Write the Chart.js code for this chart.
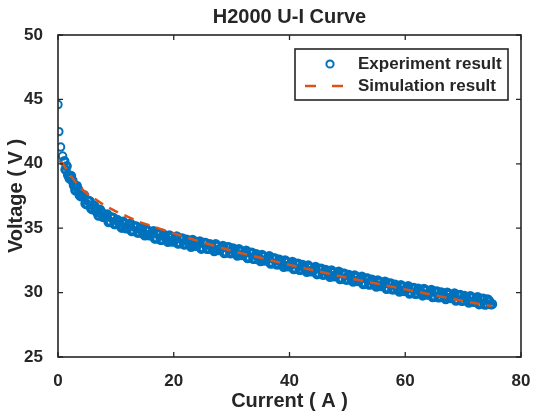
<!DOCTYPE html>
<html>
<head>
<meta charset="utf-8">
<script src="https://cdn.jsdelivr.net/npm/chart.js@4.4.0/dist/chart.umd.min.js"></script>
<style>
  html, body { margin: 0; padding: 0; background: #fff; }
  #wrap { width: 538px; height: 413px; }
</style>
</head>
<body>
<div id="wrap"><canvas id="uiChart"></canvas></div>
<script>
// measured points (current in A, voltage in V), first pass
const expCurrent = [0, 0.15, 0.45, 0.8, 1.1,
  1.5, 2, 2.5, 3, 3.5, 4, 4.5, 5, 5.5, 6, 6.5, 7, 7.5, 8, 8.5, 9, 9.5, 10,
  10.5, 11, 11.5, 12, 12.5, 13, 13.5, 14, 14.5, 15, 15.5, 16, 16.5, 17, 17.5, 18, 18.5, 19, 19.5, 20,
  20.5, 21, 21.5, 22, 22.5, 23, 23.5, 24, 24.5, 25, 25.5, 26, 26.5, 27, 27.5, 28, 28.5, 29, 29.5, 30,
  30.5, 31, 31.5, 32, 32.5, 33, 33.5, 34, 34.5, 35, 35.5, 36, 36.5, 37, 37.5, 38, 38.5, 39, 39.5, 40,
  40.5, 41, 41.5, 42, 42.5, 43, 43.5, 44, 44.5, 45, 45.5, 46, 46.5, 47, 47.5, 48, 48.5, 49, 49.5, 50,
  50.5, 51, 51.5, 52, 52.5, 53, 53.5, 54, 54.5, 55, 55.5, 56, 56.5, 57, 57.5, 58, 58.5, 59, 59.5, 60,
  60.5, 61, 61.5, 62, 62.5, 63, 63.5, 64, 64.5, 65, 65.5, 66, 66.5, 67, 67.5, 68, 68.5, 69, 69.5, 70,
  70.5, 71, 71.5, 72, 72.5, 73, 73.5, 74, 74.5, 75];
const expVoltage = [44.6, 42.5, 41.3, 40.6, 40.2,
  39.82, 38.87, 38.68, 37.94, 38.0, 37.47, 37.57, 36.85, 37.07, 36.47, 36.53, 35.99, 36.25, 35.87, 36.07, 35.5, 35.82, 35.32,
  35.48, 35.04, 35.35, 35.02, 35.35, 34.8, 35.14, 34.67, 34.86, 34.44, 34.78, 34.48, 34.76, 34.22, 34.57, 34.1, 34.35, 33.95, 34.3, 34.01,
  34.36, 33.84, 34.2, 33.75, 33.95, 33.56, 33.96, 33.68, 33.97, 33.45, 33.86, 33.41, 33.61, 33.22, 33.62, 33.34, 33.63, 33.11, 33.52, 33.07,
  33.28, 32.88, 33.24, 32.95, 33.25, 32.72, 33.09, 32.63, 32.84, 32.44, 32.8, 32.52, 32.82, 32.29, 32.66, 32.2, 32.41, 32.01, 32.37, 32.08,
  32.38, 31.86, 32.24, 31.79, 32.0, 31.61, 31.98, 31.7, 32.0, 31.48, 31.85, 31.41, 31.62, 31.23, 31.59, 31.32, 31.62, 31.1, 31.47, 31.02,
  31.24, 30.85, 31.21, 30.93, 31.24, 30.72, 31.09, 30.64, 30.85, 30.47, 30.83, 30.55, 30.85, 30.34, 30.71, 30.26, 30.47, 30.08, 30.45, 30.17,
  30.49, 29.98, 30.37, 29.93, 30.16, 29.78, 30.16, 29.89, 30.21, 29.7, 30.09, 29.65, 29.88, 29.5, 29.88, 29.62, 29.93, 29.43, 29.81, 29.38,
  29.6, 29.23, 29.6, 29.34, 29.65, 29.15, 29.53, 29.1, 29.33, 29.1];

// measured points, second pass (in between the first)
const expCurrent2 = [1.3, 1.75, 2.25, 2.75, 3.25, 3.75, 4.25, 4.75, 5.25, 5.75, 6.25, 6.75, 7.25, 7.75, 8.25, 8.75, 9.25, 9.75,
  10.25, 10.75, 11.25, 11.75, 12.25, 12.75, 13.25, 13.75, 14.25, 14.75, 15.25, 15.75, 16.25, 16.75, 17.25, 17.75, 18.25, 18.75, 19.25, 19.75,
  20.25, 20.75, 21.25, 21.75, 22.25, 22.75, 23.25, 23.75, 24.25, 24.75, 25.25, 25.75, 26.25, 26.75, 27.25, 27.75, 28.25, 28.75, 29.25, 29.75,
  30.25, 30.75, 31.25, 31.75, 32.25, 32.75, 33.25, 33.75, 34.25, 34.75, 35.25, 35.75, 36.25, 36.75, 37.25, 37.75, 38.25, 38.75, 39.25, 39.75,
  40.25, 40.75, 41.25, 41.75, 42.25, 42.75, 43.25, 43.75, 44.25, 44.75, 45.25, 45.75, 46.25, 46.75, 47.25, 47.75, 48.25, 48.75, 49.25, 49.75,
  50.25, 50.75, 51.25, 51.75, 52.25, 52.75, 53.25, 53.75, 54.25, 54.75, 55.25, 55.75, 56.25, 56.75, 57.25, 57.75, 58.25, 58.75, 59.25, 59.75,
  60.25, 60.75, 61.25, 61.75, 62.25, 62.75, 63.25, 63.75, 64.25, 64.75, 65.25, 65.75, 66.25, 66.75, 67.25, 67.75, 68.25, 68.75, 69.25, 69.75,
  70.25, 70.75, 71.25, 71.75, 72.25, 72.75, 73.25, 73.75, 74.25, 74.75];
const expVoltage2 = [39.55, 39.13, 39.05, 38.33, 38.28, 37.55, 37.53, 36.91, 37.13, 36.53, 36.75, 36.25, 36.43, 35.88, 35.98, 35.48, 35.83, 35.33,
  35.65, 35.25, 35.5, 35.0, 35.22, 34.77, 35.14, 34.67, 35.02, 34.64, 34.92, 34.45, 34.63, 34.19, 34.57, 34.1, 34.5, 34.14, 34.43, 33.97,
  34.22, 33.8, 34.19, 33.74, 34.1, 33.75, 34.09, 33.64, 33.83, 33.41, 33.85, 33.4, 33.76, 33.41, 33.75, 33.3, 33.49, 33.07, 33.51, 33.06,
  33.43, 33.07, 33.37, 32.91, 33.11, 32.68, 33.08, 32.62, 32.99, 32.63, 32.93, 32.48, 32.68, 32.25, 32.65, 32.19, 32.56, 32.2, 32.5, 32.04,
  32.24, 31.82, 32.22, 31.77, 32.14, 31.8, 32.1, 31.65, 31.85, 31.43, 31.84, 31.39, 31.76, 31.41, 31.72, 31.27, 31.47, 31.05, 31.46, 31.01,
  31.38, 31.03, 31.33, 30.89, 31.09, 30.67, 31.08, 30.63, 31.0, 30.65, 30.95, 30.51, 30.71, 30.29, 30.7, 30.25, 30.62, 30.27, 30.57, 30.13,
  30.34, 29.93, 30.35, 29.91, 30.3, 29.96, 30.28, 29.84, 30.06, 29.65, 30.07, 29.63, 30.02, 29.68, 30.0, 29.57, 29.78, 29.38, 29.79, 29.36,
  29.74, 29.41, 29.72, 29.29, 29.5, 29.1, 29.51, 29.08, 29.47, 29.1];

// model curve
const simCurrent = [0.5, 1, 2, 3, 4, 5, 6, 8, 10, 12, 14, 16, 18, 20, 25, 30, 35, 40, 45, 50, 55, 60, 65, 70, 75];
const simVoltage = [40.2, 39.9, 39.2, 38.6, 38.1, 37.7, 37.4, 36.8, 36.3, 35.9, 35.5, 35.2, 34.9, 34.6, 33.9, 33.25, 32.7, 32.15, 31.65, 31.15, 30.7, 30.25, 29.8, 29.35, 28.95];

const xTicks = [0, 20, 40, 60, 80];
const yTicks = [25, 30, 35, 40, 45, 50];
const seriesNames = ['Experiment result', 'Simulation result'];

const BLUE = '#0072BD';
const ORANGE = '#D95319';
const AXIS = '#262626';
const FONT = '"Liberation Sans", Arial, Helvetica, sans-serif';

function toXY(xs, ys) {
    return xs.map((x, i) => ({ x: x, y: ys[i] }));
}

// box round the plot with inward ticks on all four sides
const boxPlugin = {
    id: 'matlabBox',
    afterDatasetsDraw(chart) {
        const { ctx, chartArea: a, scales } = chart;
        ctx.save();
        ctx.strokeStyle = AXIS;
        ctx.lineWidth = 1.6;
        ctx.strokeRect(a.left, a.top, a.right - a.left, a.bottom - a.top);
        ctx.lineWidth = 1.3;
        ctx.beginPath();
        xTicks.forEach(v => {
            const px = scales.x.getPixelForValue(v);
            ctx.moveTo(px, a.bottom); ctx.lineTo(px, a.bottom - 5);
            ctx.moveTo(px, a.top); ctx.lineTo(px, a.top + 5);
        });
        yTicks.forEach(v => {
            const py = scales.y.getPixelForValue(v);
            ctx.moveTo(a.left, py); ctx.lineTo(a.left + 5, py);
            ctx.moveTo(a.right, py); ctx.lineTo(a.right - 5, py);
        });
        ctx.stroke();
        ctx.restore();
    }
};

// legend box in the upper right corner of the plot
const legendPlugin = {
    id: 'matlabLegend',
    afterDraw(chart) {
        const { ctx, chartArea: a } = chart;
        const w = 213, h = 51;
        const x0 = a.right - 13 - w, y0 = a.top + 14;
        ctx.save();
        ctx.fillStyle = '#fff';
        ctx.fillRect(x0, y0, w, h);
        ctx.strokeStyle = AXIS;
        ctx.lineWidth = 1.6;
        ctx.strokeRect(x0, y0, w, h);

        const row1 = y0 + 15, row2 = y0 + 37;
        ctx.strokeStyle = BLUE;
        ctx.lineWidth = 2;
        ctx.beginPath();
        ctx.arc(x0 + 35, row1, 3.6, 0, Math.PI * 2);
        ctx.stroke();

        ctx.strokeStyle = ORANGE;
        ctx.lineWidth = 2.5;
        ctx.setLineDash([11, 16]);
        ctx.beginPath();
        ctx.moveTo(x0 + 10, row2);
        ctx.lineTo(x0 + 49, row2);
        ctx.stroke();
        ctx.setLineDash([]);

        ctx.fillStyle = AXIS;
        ctx.font = 'bold 17px ' + FONT;
        ctx.textBaseline = 'middle';
        ctx.fillText(seriesNames[0], x0 + 63, row1);
        ctx.fillText(seriesNames[1], x0 + 63, row2);
        ctx.restore();
    }
};

// the lone points at the top keep a thin ring, the dense band is drawn thick
const ringWidth = c => (c.raw && c.raw.y > 40.5 ? 2 : 3);

const ctx = document.getElementById('uiChart').getContext('2d');
new Chart(ctx, {
    type: 'scatter',
    data: {
        datasets: [{
            label: seriesNames[0],
            data: toXY(expCurrent, expVoltage).concat(toXY(expCurrent2, expVoltage2)),
            showLine: false,
            pointStyle: 'circle',
            pointRadius: 3.7,
            pointBorderWidth: ringWidth,
            borderColor: BLUE,
            backgroundColor: 'rgba(0,0,0,0)',
            order: 1
        }, {
            label: seriesNames[1],
            type: 'line',
            data: toXY(simCurrent, simVoltage),
            showLine: true,
            pointRadius: 0,
            borderColor: ORANGE,
            borderWidth: 2.5,
            borderDash: [10, 7],
            cubicInterpolationMode: 'monotone',
            fill: false,
            order: 0
        }]
    },
    options: {
        responsive: true,
        maintainAspectRatio: false,
        animation: false,
        layout: { padding: { left: 0, right: 17, top: 0, bottom: 0 } },
        plugins: {
            legend: { display: false },
            tooltip: { enabled: false },
            title: {
                display: true,
                fullSize: false,
                text: 'H2000 U-I Curve',
                color: AXIS,
                font: { family: FONT, size: 20, weight: 'bold' },
                padding: { top: 5, bottom: 6 }
            }
        },
        scales: {
            x: {
                type: 'linear',
                min: 0,
                max: 80,
                afterFit: s => { s.height = 56; },
                afterBuildTicks: s => { s.ticks = xTicks.map(v => ({ value: v })); },
                grid: { display: false },
                border: { display: false },
                ticks: { color: AXIS, padding: 6, font: { family: FONT, size: 17, weight: 'bold' }, maxRotation: 0 },
                title: {
                    display: true,
                    text: 'Current ( A )',
                    color: AXIS,
                    font: { family: FONT, size: 20, weight: 'bold' },
                    padding: { top: 0, bottom: 0 }
                }
            },
            y: {
                type: 'linear',
                min: 25,
                max: 50,
                afterFit: s => { s.width = 58; },
                afterBuildTicks: s => { s.ticks = yTicks.map(v => ({ value: v })); },
                grid: { display: false },
                border: { display: false },
                ticks: { color: AXIS, padding: 7, font: { family: FONT, size: 17, weight: 'bold' } },
                title: {
                    display: true,
                    text: 'Voltage ( V )',
                    color: AXIS,
                    font: { family: FONT, size: 20, weight: 'bold' },
                    padding: { top: 4, bottom: 0 }
                }
            }
        }
    },
    plugins: [boxPlugin, legendPlugin]
});
</script>
</body>
</html>
